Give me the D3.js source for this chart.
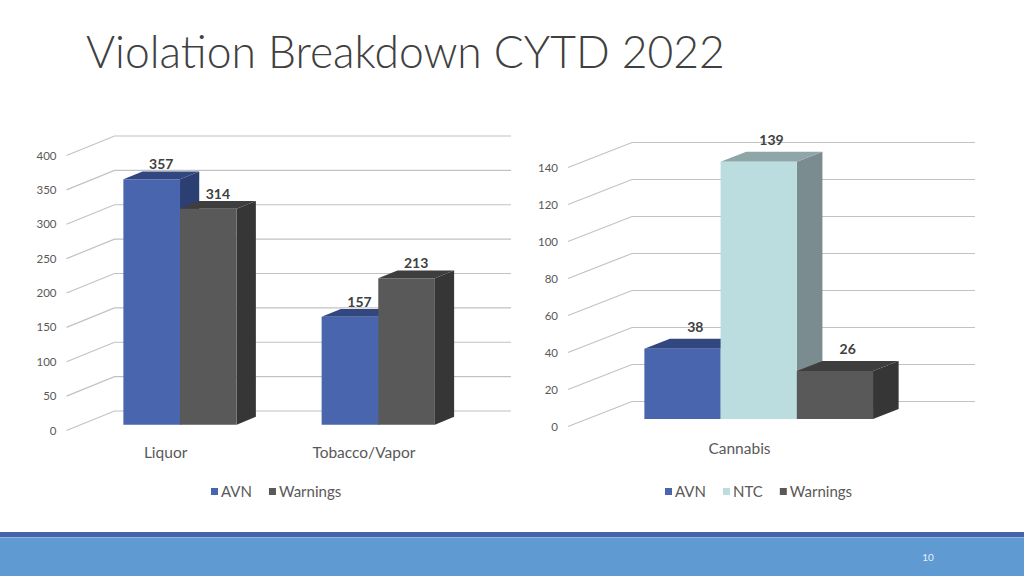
<!DOCTYPE html>
<html>
<head>
<meta charset="utf-8">
<script src="https://cdnjs.cloudflare.com/ajax/libs/d3/7.8.5/d3.min.js"></script>
<style>
  html, body { margin: 0; padding: 0; background: #fff; }
  svg { display: block; font-family: Lato, "Open Sans", sans-serif; }
</style>
</head>
<body>
<svg id="slide" width="1024" height="576"></svg>
<script>
// Violation Breakdown CYTD 2022 - two 3D clustered column charts

const titleText = 'Violation Breakdown CYTD 2022';

// left chart: Liquor / Tobacco
const leftCategories = ['Liquor', 'Tobacco/Vapor'];
const leftSeries = ['AVN', 'Warnings'];
const leftAVN = [357, 157];
const leftWarnings = [314, 213];
const leftTicks = [0, 50, 100, 150, 200, 250, 300, 350, 400];

// right chart: Cannabis
const rightCategories = ['Cannabis'];
const rightSeries = ['AVN', 'NTC', 'Warnings'];
const rightAVN = [38];
const rightNTC = [139];
const rightWarnings = [26];
const rightTicks = [0, 20, 40, 60, 80, 100, 120, 140];

const pageNumber = '10';

const palette = {
  AVN:      { front: '#4865ad', top: '#324780', side: '#2c3f72' },
  Warnings: { front: '#595959', top: '#3e3e3e', side: '#363636' },
  NTC:      { front: '#bcdde0', top: '#8fa6a9', side: '#7a8c8f' }
};

const svg = d3.select('#slide');

// title
svg.append('text').attr('x', 86).attr('y', 68)
  .attr('font-size', 44).attr('font-weight', 300).attr('fill', '#404040')
  .text(titleText)
  .each(function () {
    const w = this.getComputedTextLength();
    d3.select(this).attr('font-size', 44 * 639 / w);
  });

function chart3d(cfg) {
  const g = svg.append('g');
  const x = d3.scaleBand().domain(cfg.categories).range([cfg.x0, cfg.x1]);
  const y = d3.scaleLinear().domain([0, d3.max(cfg.ticks)]).range([cfg.yBottom, cfg.yTop]);
  const DX = cfg.dx, DY = cfg.dy;
  const p = (px, py, d) => [px + d * DX, py + d * DY];
  const d0 = 0.3, d1 = 0.7;
  const n = cfg.series.length;
  const bw = x.step() / (n + 1.5);

  // side wall + back wall gridlines
  cfg.ticks.forEach(t => {
    const a = p(cfg.x0, y(t), 0), b = p(cfg.x0, y(t), 1), c = p(cfg.x1, y(t), 1);
    g.append('path').attr('d', `M${a}L${b}L${c}`)
      .attr('fill', 'none').attr('stroke', '#c2c2c2').attr('stroke-width', 1.2);
    g.append('text').attr('x', cfg.x0 - 10).attr('y', y(t) + 4)
      .attr('text-anchor', 'end').attr('font-size', 11.5).attr('fill', '#595959').text(t);
  });

  // bars, left to right so later fronts cover earlier sides
  const labels = [];
  cfg.categories.forEach((cat, ci) => {
    const cx = x(cat) + x.step() / 2;
    cfg.series.forEach((s, si) => {
      const v = cfg.values[s][ci];
      const col = palette[s];
      const xl = cx + (si - n / 2) * bw, xr = xl + bw;
      const yt = y(v), yb = y(0);
      const poly = pts => 'M' + pts.map(q => q.join(',')).join('L') + 'Z';
      g.append('path').attr('d', poly([p(xr, yt, d0), p(xr, yb, d0), p(xr, yb, d1), p(xr, yt, d1)]))
        .attr('fill', col.side);
      g.append('path').attr('d', poly([p(xl, yt, d0), p(xr, yt, d0), p(xr, yt, d1), p(xl, yt, d1)]))
        .attr('fill', col.top);
      g.append('path').attr('d', poly([p(xl, yt, d0), p(xr, yt, d0), p(xr, yb, d0), p(xl, yb, d0)]))
        .attr('fill', col.front);
      const lp = p(xl + bw / 2, yt, 0.5);
      labels.push({ x: lp[0], y: p(xl, yt, d0)[1] - cfg.labelGap, v });
    });
    g.append('text').attr('x', cx).attr('y', cfg.yBottom + 27)
      .attr('text-anchor', 'middle').attr('font-size', 15.5).attr('fill', '#595959').text(cat);
  });

  labels.forEach(l => {
    g.append('text').attr('x', l.x).attr('y', l.y)
      .attr('text-anchor', 'middle').attr('font-size', 14).attr('font-weight', 700)
      .attr('fill', '#404040').text(l.v);
  });

  // legend
  let lx = cfg.legendX;
  cfg.series.forEach(s => {
    g.append('rect').attr('x', lx).attr('y', 488).attr('width', 7).attr('height', 7)
      .attr('fill', palette[s].front);
    const t = g.append('text').attr('x', lx + 10).attr('y', 496.5)
      .attr('font-size', 15).attr('fill', '#595959').text(s);
    lx += 10 + t.node().getComputedTextLength() + 17;
  });
}

chart3d({
  categories: leftCategories, series: leftSeries,
  values: { AVN: leftAVN, Warnings: leftWarnings },
  ticks: leftTicks,
  x0: 66.5, x1: 463, yBottom: 430.5, yTop: 155.5, dx: 48, dy: -19.5,
  labelGap: 10, legendX: 211
});

chart3d({
  categories: rightCategories, series: rightSeries,
  values: { AVN: rightAVN, NTC: rightNTC, Warnings: rightWarnings },
  ticks: rightTicks,
  x0: 568, x1: 911, yBottom: 426.5, yTop: 167.5, dx: 64, dy: -25,
  labelGap: 17, legendX: 665
});

// footer band
svg.append('rect').attr('x', 0).attr('y', 532).attr('width', 1024).attr('height', 5).attr('fill', '#4563ad');
svg.append('rect').attr('x', 0).attr('y', 537).attr('width', 1024).attr('height', 39).attr('fill', '#5f9bd2');
svg.append('line').attr('x1', 0).attr('x2', 1024).attr('y1', 537.5).attr('y2', 537.5)
  .attr('stroke', '#8db6e2').attr('stroke-width', 1);
svg.append('text').attr('x', 928).attr('y', 561).attr('text-anchor', 'middle')
  .attr('font-size', 10).attr('fill', '#e6f0fb').text(pageNumber);
</script>
</body>
</html>
